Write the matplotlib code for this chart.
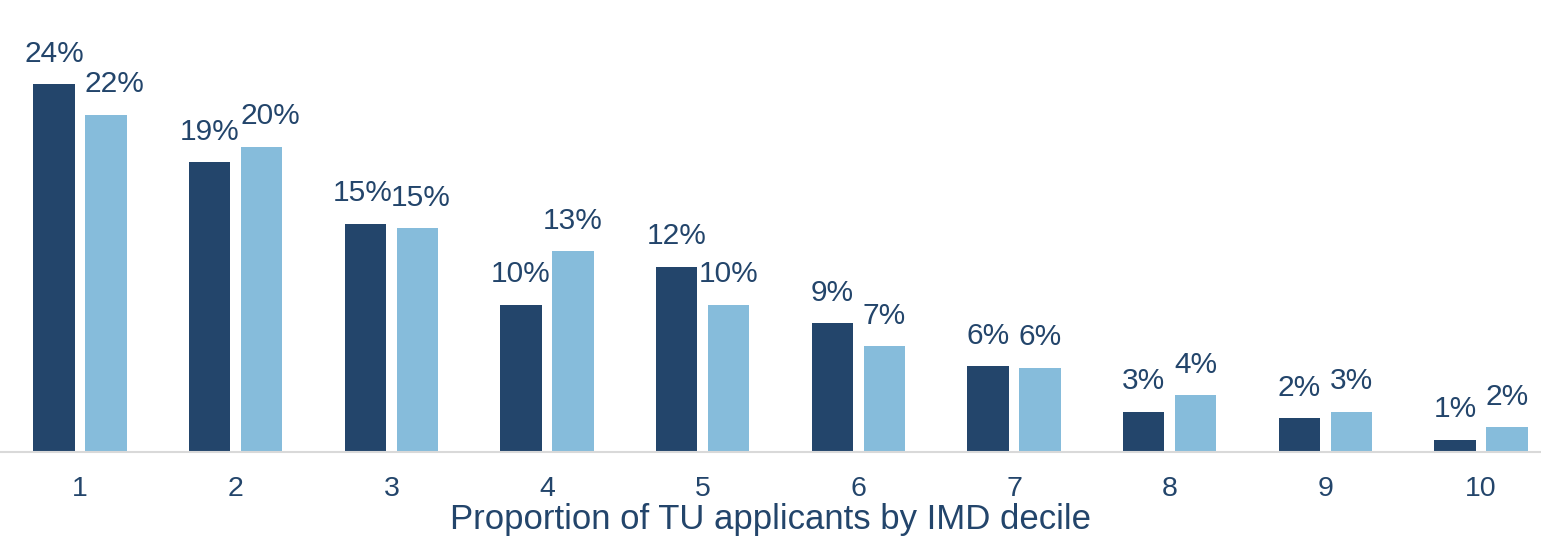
import matplotlib.pyplot as plt
import numpy as np

plt.rcParams['font.family'] = ['Liberation Sans', 'DejaVu Sans']

deciles = ['1', '2', '3', '4', '5', '6', '7', '8', '9', '10']
series_a = [24.0, 18.9, 14.9, 9.6, 12.1, 8.4, 5.6, 2.6, 2.2, 0.8]
series_b = [22.0, 19.9, 14.6, 13.1, 9.6, 6.9, 5.5, 3.7, 2.6, 1.6]
labels_a = ['24%', '19%', '15%', '10%', '12%', '9%', '6%', '3%', '2%', '1%']
labels_b = ['22%', '20%', '15%', '13%', '10%', '7%', '6%', '4%', '3%', '2%']

dark = '#23456B'
light = '#86BCDB'
txt = '#23456B'

fig = plt.figure(figsize=(15.41, 5.4), dpi=100)
ax = fig.add_axes([0, 0.163, 1, 0.837])

x = np.arange(1, len(deciles) + 1)
w = 0.265
off = 0.167
bars_a = ax.bar(x - off, series_a, width=w, color=dark)
bars_b = ax.bar(x + off, series_b, width=w, color=light)

# small sideways nudges so neighbouring labels don't collide
nudges = [{2: -2}, {0: 6, 1: 6, 2: 2.5}]

for k, (bars, labs) in enumerate([(bars_a, labels_a), (bars_b, labels_b)]):
    for i, (b, lab) in enumerate(zip(bars, labs)):
        dx = nudges[k].get(i, 0)
        ax.annotate(lab, (b.get_x() + b.get_width() / 2, b.get_height()),
                    xytext=(dx, 12), textcoords='offset points',
                    ha='center', va='bottom', fontsize=21.5, color=txt)

ax.set_xlim(0.486, 10.385)
ax.set_ylim(0, 29.5)
ax.set_xticks(x)
ax.set_xticklabels(deciles, fontsize=20.5, color=txt)
ax.tick_params(axis='x', length=0, pad=17)
ax.set_yticks([])
for s in ['top', 'right', 'left']:
    ax.spines[s].set_visible(False)
ax.spines['bottom'].set_color('#D9D9D9')
ax.spines['bottom'].set_linewidth(1.5)
ax.set_xlabel('Proportion of TU applicants by IMD decile', fontsize=25, color=txt, labelpad=1)

fig.savefig('out.png', dpi=100)
